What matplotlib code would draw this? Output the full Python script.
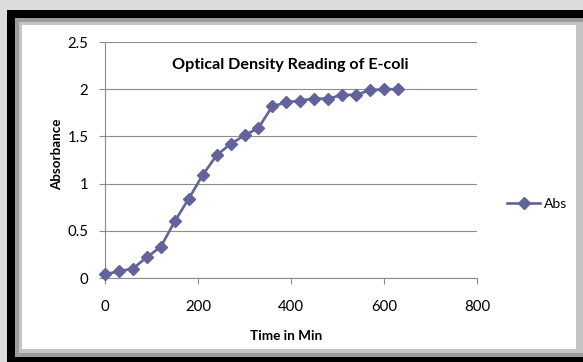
import matplotlib
matplotlib.use("Agg")
import matplotlib.pyplot as plt
from matplotlib.patches import Rectangle

# Data
time_min = [0, 30, 60, 90, 120, 150, 180, 210, 240, 270, 300, 330, 360,
            390, 420, 450, 480, 510, 540, 570, 600, 630]
absorbance = [0.04, 0.07, 0.10, 0.22, 0.33, 0.60, 0.84, 1.09, 1.30, 1.42,
              1.51, 1.59, 1.82, 1.86, 1.88, 1.90, 1.90, 1.94, 1.94, 1.99,
              2.00, 2.00]
x_ticks = [0, 200, 400, 600, 800]
y_ticks = [0, 0.5, 1, 1.5, 2, 2.5]
y_tick_labels = ["0", "0.5", "1", "1.5", "2", "2.5"]
series_name = "Abs"
title = "Optical Density Reading of E-coli"
x_label = "Time in Min"
y_label = "Absorbance"

W, H = 583, 362
plt.rcParams['font.family'] = ['Lato', 'DejaVu Sans']
fig = plt.figure(figsize=(W / 100, H / 100), dpi=100)
fig.patch.set_facecolor('#dcdcdc')


def rect(x0, y0, x1, y1, color):
    fig.add_artist(Rectangle((x0 / W, 1 - y1 / H), (x1 - x0) / W, (y1 - y0) / H,
                             transform=fig.transFigure, facecolor=color,
                             edgecolor='none', zorder=0))


rect(7, 10, W + 5, H + 5, '#000000')
rect(15, 18, W + 5, 357, '#9c9c9c')
rect(19, 22, W + 5, 353, '#c4c4c4')
rect(22, 25, 576, 349, '#ffffff')

ax = fig.add_axes([105 / W, 1 - 278 / H, (477 - 105) / W, (278 - 42) / H])
ax.set_facecolor('none')
color = '#62639b'
line, = ax.plot(time_min, absorbance, color=color, lw=1.9, marker='D',
                markersize=6.6, markeredgecolor=color, markerfacecolor=color,
                label=series_name, zorder=3, clip_on=False)
ax.set_xlim(0, 800)
ax.set_ylim(0, 2.5)
ax.set_xticks(x_ticks)
ax.set_yticks(y_ticks)
ax.set_yticklabels(y_tick_labels)
ax.grid(axis='y', color='#8c8c8c', lw=0.8)
ax.set_axisbelow(True)
for s in ['top', 'right']:
    ax.spines[s].set_visible(False)
for s in ['left', 'bottom']:
    ax.spines[s].set_color('#8c8c8c')
    ax.spines[s].set_linewidth(0.8)
ax.tick_params(axis='both', direction='out', length=4, width=0.8,
               color='#8c8c8c', labelsize=10.8, labelcolor='#000000')
ax.tick_params(axis='x', pad=12)
ax.tick_params(axis='y', pad=8)

fig.text(290 / W, 1 - 65 / H, title, ha='center', va='center',
         fontsize=11.6, fontweight='bold')
fig.text(286 / W, 1 - 336 / H, x_label, ha='center', va='center',
         fontsize=9.8, fontweight='bold')
fig.text(57 / W, 1 - 154 / H, y_label, ha='center', va='center',
         fontsize=9.6, fontweight='bold', rotation=90)

fig.legend(handles=[line], labels=[series_name], loc='center left',
           bbox_to_anchor=(507 / W, 1 - 204 / H), frameon=False,
           fontsize=10, handlelength=2.4, handletextpad=0.25,
           borderpad=0, borderaxespad=0, markerscale=1.0)

fig.savefig('out.png', dpi=100, facecolor=fig.get_facecolor())
